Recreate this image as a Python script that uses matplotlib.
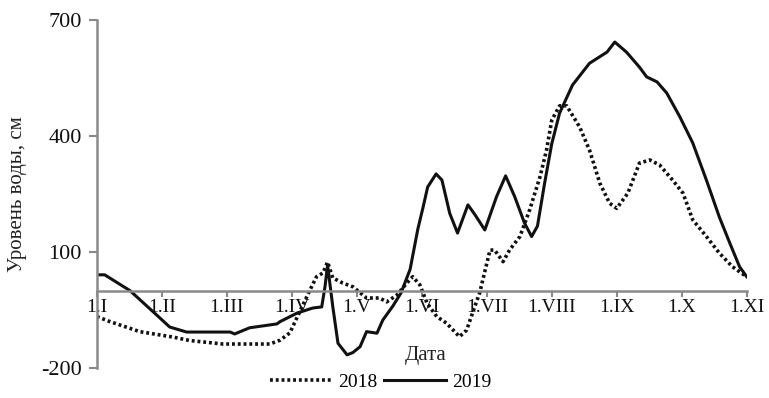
import numpy as np
import matplotlib.pyplot as plt

# x = months since 1 Jan (1.I = 0 ... 1.XI = 10), y = water level, cm
x2019 = [0, 0.12, 0.51, 0.92, 1.12, 1.38, 2.05, 2.12, 2.35, 2.77, 2.82, 3.08, 3.32,
         3.46, 3.51, 3.55, 3.63, 3.71, 3.85, 3.94, 4.05, 4.15, 4.31, 4.4, 4.55, 4.68,
         4.82, 4.94, 5.02, 5.09, 5.22, 5.31, 5.43, 5.55, 5.71, 5.82, 5.97, 6.15, 6.29,
         6.43, 6.58, 6.69, 6.78, 6.89, 7.0, 7.12, 7.32, 7.58, 7.85, 7.97, 8.15, 8.35,
         8.46, 8.62, 8.77, 8.97, 9.17, 9.38, 9.58, 9.74, 9.89, 10.0]
y2019 = [41, 41, 0, -63, -94, -107, -107, -112, -96, -86, -80, -58, -45,
         -42, 10, 66, -41, -136, -166, -160, -145, -106, -110, -76, -41, -6,
         55, 160, 216, 268, 302, 286, 200, 149, 222, 196, 157, 243, 297,
         243, 175, 140, 167, 278, 380, 459, 532, 588, 617, 643, 617, 578,
         553, 540, 511, 450, 382, 286, 190, 123, 62, 36]

x2018 = [0, 0.2, 0.66, 1.17, 1.43, 1.94, 2.66, 2.82, 2.97, 3.12, 3.28, 3.38, 3.48,
         3.55, 3.63, 3.78, 3.94, 4.15, 4.35, 4.46, 4.62, 4.77, 4.86, 4.97, 5.08,
         5.23, 5.38, 5.58, 5.69, 5.78, 5.89, 6.05, 6.12, 6.25, 6.35, 6.51, 6.66,
         6.82, 6.92, 7.0, 7.12, 7.23, 7.43, 7.58, 7.74, 7.89, 8.0, 8.17, 8.35,
         8.51, 8.66, 8.86, 9.02, 9.17, 9.38, 9.58, 9.78, 10.0]
y2018 = [-67, -80, -106, -120, -129, -138, -138, -128, -109, -55, 2, 36, 46,
         74, 33, 20, 10, -19, -19, -29, -11, 20, 36, 15, -32,
         -67, -84, -119, -102, -58, -6, 105, 105, 75, 105, 140, 209,
         295, 364, 441, 478, 478, 423, 364, 278, 226, 213, 252, 330,
         338, 325, 286, 252, 183, 140, 97, 62, 36]

month_labels = ['1.I', '1.II', '1.III', '1.IV', '1.V', '1.VI', '1.VII',
                '1.VIII', '1.IX', '1.X', '1.XI']
yticks = [-200, 100, 400, 700]

plt.rcParams['font.family'] = ['Liberation Serif', 'DejaVu Serif']
plt.rcParams['axes.unicode_minus'] = False

fig = plt.figure(figsize=(7.69, 3.98), dpi=100)
ax = fig.add_axes([0.126, 0.0754, 0.845, 0.8743])

l1, = ax.plot(x2018, y2018, color='#111111', lw=2.6, linestyle=(0, (0.8, 0.8)))
l2, = ax.plot(x2019, y2019, color='#111111', lw=2.2)

ax.set_xlim(0, 10)
ax.set_ylim(-200, 700)
ax.set_yticks(yticks)
ax.set_xticks(range(len(month_labels)))
ax.set_xticklabels(month_labels)

for s in ['top', 'right']:
    ax.spines[s].set_visible(False)
ax.spines['bottom'].set_position(('data', 0))
ax.spines['bottom'].set_color('#8a8a8a')
ax.spines['left'].set_color('#8a8a8a')
ax.spines['bottom'].set_linewidth(1.8)
ax.spines['left'].set_linewidth(1.8)
ax.tick_params(axis='x', direction='out', length=4, width=1.5, color='#8a8a8a',
               labelsize=14, pad=2, labelcolor='#111111')
ax.tick_params(axis='y', direction='out', length=6, width=1.5, color='#8a8a8a',
               labelsize=16, pad=5, labelcolor='#111111')

ax.set_ylabel('Уровень воды, см', fontsize=15, color='#222222', labelpad=10)
fig.text(0.553, 0.108, 'Дата', fontsize=15, ha='center', va='center', color='#222222')

fig.legend([l1, l2], ['2018', '2019'], loc='center', bbox_to_anchor=(0.495, 0.04),
           ncol=2, frameon=False, fontsize=14, handlelength=3.2, handletextpad=0.3,
           columnspacing=0.3, borderpad=0)

fig.savefig('out.png', dpi=100)
